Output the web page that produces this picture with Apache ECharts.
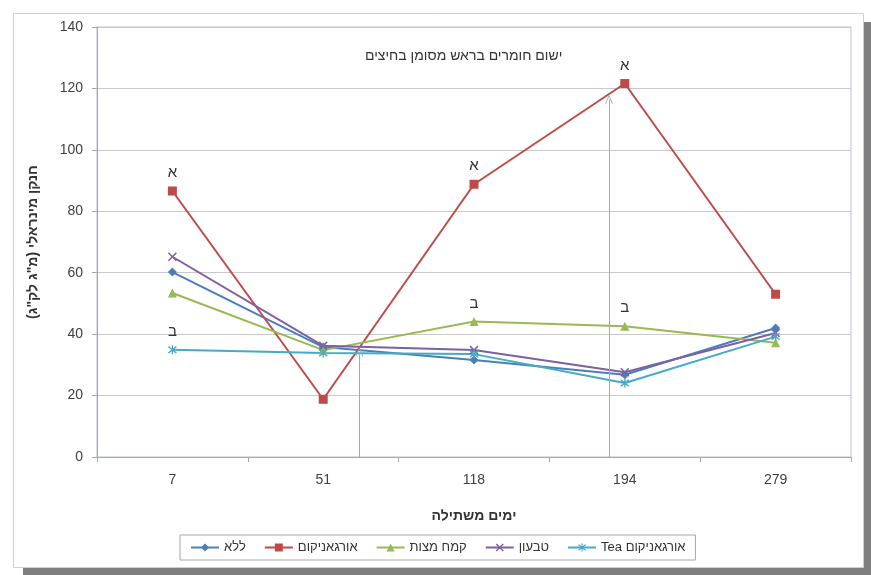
<!DOCTYPE html>
<html>
<head>
<meta charset="utf-8">
<script src="https://cdn.jsdelivr.net/npm/echarts@6/dist/echarts.min.js"></script>
<style>
  html, body { margin: 0; padding: 0; background: #ffffff; }
  #chart { width: 871px; height: 575px; }
</style>
</head>
<body>
<div id="chart"></div>
<script>
// Days after planting (category axis)
const days = ['7', '51', '118', '194', '279'];

// Mineral nitrogen (mg/kg) per treatment
const seriesNames = ['ללא', 'אורגאניקום', 'קמח מצות', 'טבעון', 'Tea אורגאניקום'];
const none      = [60.2, 35.8, 31.6, 26.8, 42.0];
const organicum = [86.6, 18.8, 88.8, 121.6, 53.0];
const matzaMeal = [53.4, 34.8, 44.1, 42.6, 37.2];
const tivon     = [65.2, 36.2, 34.8, 27.6, 40.4];
const teaOrg    = [34.9, 33.9, 33.5, 24.1, 39.2];

// Significance letters above points
const organicumLetters = ['א', '', 'א', 'א', ''];
const matzaLetters     = ['', '', 'ב', 'ב', ''];
const teaLetters       = ['ב', '', '', '', ''];

// Material application times (position along the day axis, arrow tip value)
const applyPos  = [1.24, 2.895];
const applyTops = [34.2, 116.5];

const yTicks = { min: 0, max: 140, interval: 20 };

const colors = ['#4A7EBB', '#BE4B48', '#98B954', '#7D60A0', '#46AAC5'];

const FONT = '"Liberation Sans", "DejaVu Sans", Arial, sans-serif';

const crossPath = 'path://M0,1.2 L1.2,0 L5,3.8 L8.8,0 L10,1.2 L6.2,5 L10,8.8 L8.8,10 L5,6.2 L1.2,10 L0,8.8 L3.8,5 Z';
const starPath = 'path://M0,1.2 L1.2,0 L5,3.8 L8.8,0 L10,1.2 L6.2,5 L10,8.8 L8.8,10 L5,6.2 L1.2,10 L0,8.8 L3.8,5 Z M4.3,-1 L5.7,-1 L5.7,11 L4.3,11 Z';

function withLetters(values, letters) {
  return values.map((v, i) => letters[i]
    ? { value: v, label: { show: true, formatter: letters[i] } }
    : v);
}

const letterLabel = {
  show: false,
  position: 'top',
  distance: 6,
  color: '#333333',
  fontSize: 15,
  fontFamily: FONT
};

function lineSeries(name, data, color, symbol, size) {
  return {
    name: name,
    type: 'line',
    data: data,
    symbol: symbol,
    symbolSize: size,
    showAllSymbol: true,
    lineStyle: { color: color, width: 2 },
    itemStyle: { color: color },
    label: letterLabel,
    emphasis: { disabled: true },
    z: 3
  };
}

const chart = echarts.init(document.getElementById('chart'));

chart.setOption({
  animation: false,
  backgroundColor: '#ffffff',
  graphic: {
    elements: [
      { type: 'rect', z: -20, shape: { x: 23, y: 22, width: 848, height: 553 }, style: { fill: '#7f7f7f' } },
      { type: 'rect', z: -19, shape: { x: 13.5, y: 13.5, width: 850, height: 554 }, style: { fill: '#ffffff', stroke: '#cfcfcf', lineWidth: 1 } }
    ]
  },
  title: {
    text: 'ישום חומרים בראש מסומן בחיצים',
    left: 360,
    top: 44,
    textStyle: { fontFamily: FONT, fontSize: 14, fontWeight: 'normal', color: '#333333' }
  },
  legend: {
    data: seriesNames,
    left: 180,
    top: 535,
    padding: [6, 10],
    itemGap: 18,
    itemWidth: 28,
    itemHeight: 10,
    borderColor: '#a6a6a6',
    borderWidth: 1,
    textStyle: { fontFamily: FONT, fontSize: 13, color: '#333333' }
  },
  grid: {
    left: 97, top: 27, right: 20, bottom: 118,
    show: true,
    borderColor: '#b9c3d3',
    borderWidth: 1,
    containLabel: false
  },
  xAxis: [
    {
      type: 'category',
      data: days,
      boundaryGap: true,
      name: 'ימים משתילה',
      nameLocation: 'middle',
      nameGap: 52,
      nameTextStyle: { fontFamily: FONT, fontSize: 14, fontWeight: 'bold', color: '#333333' },
      axisLine: { onZero: false, lineStyle: { color: '#a8a8a8', width: 1 } },
      axisTick: { show: true, length: 5, alignWithLabel: false, lineStyle: { color: '#a8a8a8' } },
      axisLabel: { margin: 16, fontFamily: FONT, fontSize: 14, color: '#404040' },
      splitLine: { show: false }
    },
    {
      type: 'value',
      min: -0.5,
      max: 4.5,
      show: false,
      position: 'bottom',
      axisLine: { onZero: false }
    }
  ],
  yAxis: {
    type: 'value',
    min: yTicks.min,
    max: yTicks.max,
    interval: yTicks.interval,
    name: 'חנקן מינראלי (מ"ג לק"ג)\u200F',
    nameLocation: 'middle',
    nameGap: 57,
    nameTextStyle: { fontFamily: FONT, fontSize: 14, fontWeight: 'bold', color: '#333333' },
    axisLine: { show: true, onZero: false, lineStyle: { color: '#a8a8a8', width: 1 } },
    axisTick: { show: true, length: 5, lineStyle: { color: '#a8a8a8' } },
    axisLabel: { margin: 14, fontFamily: FONT, fontSize: 14, color: '#404040' },
    splitLine: { show: true, lineStyle: { color: '#c9c9c9', width: 1 } }
  },
  series: [
    lineSeries(seriesNames[0], none, colors[0], 'diamond', 9),
    lineSeries(seriesNames[1], withLetters(organicum, organicumLetters), colors[1], 'rect', 9),
    lineSeries(seriesNames[2], withLetters(matzaMeal, matzaLetters), colors[2], 'triangle', 9),
    lineSeries(seriesNames[3], tivon, colors[3], crossPath, 9),
    lineSeries(seriesNames[4], withLetters(teaOrg, teaLetters), colors[4], starPath, 9),
    {
      name: 'applications',
      type: 'line',
      xAxisIndex: 1,
      yAxisIndex: 0,
      data: [],
      silent: true,
      markLine: {
        silent: true,
        animation: false,
        symbol: ['none', 'path://M0,10 L5,0 L10,10 L8.8,10 L5,2.4 L1.2,10 Z'],
        symbolSize: [8, 9],
        label: { show: false },
        lineStyle: { color: '#94acd6', width: 1, type: 'solid' },
        emphasis: { disabled: true },
        data: applyPos.map((p, i) => [
          { coord: [p, yTicks.min] },
          { coord: [p, applyTops[i]] }
        ])
      }
    }
  ]
});
</script>
</body>
</html>
